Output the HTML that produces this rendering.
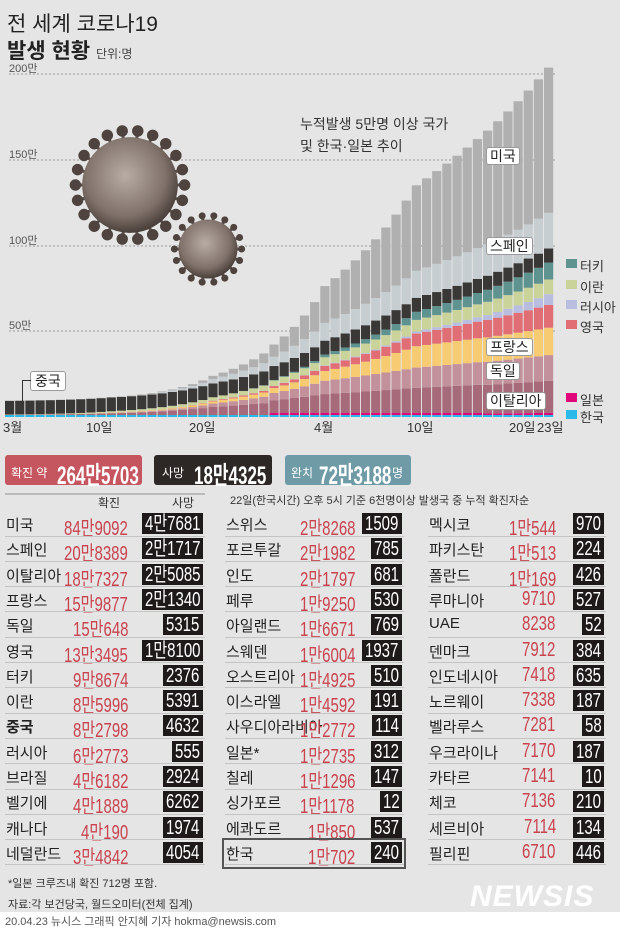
<!DOCTYPE html>
<html><head><meta charset="utf-8">
<style>
body{margin:0;width:620px;height:929px;background:#e5e5e5;font-family:"Liberation Sans","Noto Sans CJK KR",sans-serif;position:relative;overflow:hidden}
.a{position:absolute;white-space:nowrap}
.sx{display:inline-block;transform:scaleX(.75);transform-origin:0 0}
.lbl{position:absolute;background:#fff;border:1px solid #999;border-radius:3px;font-size:14px;padding:0 3px;line-height:16px;color:#222}
</style></head><body>
<svg id="ch" class="a" style="left:0;top:0" width="620" height="450"></svg>
<div class="a" style="left:7px;top:8px;font-size:21px;color:#222">전 세계 코로나19</div>
<div class="a" style="left:7px;top:35px;font-size:21px;font-weight:bold;color:#222">발생 현황 <span style="font-size:12px;font-weight:normal;color:#444">단위:명</span></div>
<div class="a" style="left:9px;top:60px;font-size:11px;color:#555">200만</div>
<div class="a" style="left:9px;top:146px;font-size:11px;color:#555">150만</div>
<div class="a" style="left:9px;top:232px;font-size:11px;color:#555">100만</div>
<div class="a" style="left:9px;top:317px;font-size:11px;color:#555">50만</div>
<div class="a" style="left:300px;top:113px;font-size:14px;line-height:22px;color:#333">누적발생 5만명 이상 국가<br>및 한국·일본 추이</div>
<div class="lbl" style="left:486px;top:147px">미국</div>
<div class="lbl" style="left:486px;top:237px">스페인</div>
<div class="lbl" style="left:486px;top:338px">프랑스</div>
<div class="lbl" style="left:486px;top:362px">독일</div>
<div class="lbl" style="left:486px;top:392px">이탈리아</div>
<div class="lbl" style="left:30px;top:371px;padding:1px 4px">중국</div>
<div class="a" style="left:22px;top:380px;width:8px;height:22px;border-left:1px solid #333;border-top:1px solid #333"></div>
<div id="lg"></div>
<div class="a" style="left:3px;top:417px;font-size:13px;color:#333">3월</div>
<div class="a" style="left:86px;top:417px;font-size:13px;color:#333">10일</div>
<div class="a" style="left:189px;top:417px;font-size:13px;color:#333">20일</div>
<div class="a" style="left:314px;top:417px;font-size:13px;color:#333">4월</div>
<div class="a" style="left:407px;top:417px;font-size:13px;color:#333">10일</div>
<div class="a" style="left:509px;top:417px;font-size:13px;color:#333">20일</div>
<div class="a" style="left:537px;top:417px;font-size:13px;color:#333">23일</div>

<div class="a" style="left:5px;top:455px;width:137px;height:30px;background:#c5555e;border-radius:3px;color:#fff"><span style="position:absolute;left:6px;top:9px;font-size:12px">확진 약</span><span class="sx" style="position:absolute;left:52px;top:1px;font-size:25px;font-weight:bold;transform:scaleX(.68)">264만5703</span></div>
<div class="a" style="left:154px;top:455px;width:118px;height:30px;background:#2d2725;border-radius:3px;color:#fff"><span style="position:absolute;left:8px;top:9px;font-size:12px">사망</span><span class="sx" style="position:absolute;left:40px;top:1px;font-size:25px;font-weight:bold;transform:scaleX(.68)">18만4325</span></div>
<div class="a" style="left:285px;top:455px;width:126px;height:30px;background:#6f9ba6;border-radius:3px;color:#fff"><span style="position:absolute;left:6px;top:9px;font-size:12px">완치</span><span class="sx" style="position:absolute;left:34px;top:1px;font-size:25px;font-weight:bold;transform:scaleX(.68)">72만3188</span><span style="position:absolute;left:107px;top:9px;font-size:12px">명</span></div>
<div class="a" style="left:5px;top:493px;width:200px;border-top:2px solid #bbb"></div>
<div class="a" style="left:98px;top:494px;font-size:12px;color:#333">확진</div>
<div class="a" style="left:172px;top:494px;font-size:12px;color:#333">사망</div>
<div class="a" style="left:230px;top:492px;font-size:11px;color:#333">22일(한국시간) 오후 5시 기준 6천명이상 발생국 중 누적 확진자순</div>
<div id="tb"></div>
<div class="a" style="left:222px;top:838px;width:180px;height:27px;border:2px solid #555"></div>
<div class="a" style="left:8px;top:875px;font-size:11px;color:#333">*일본 크루즈내 확진 712명 포함.</div>
<div class="a" style="left:8px;top:896px;font-size:11px;color:#333">자료:각 보건당국, 월드오미터(전체 집계)</div>
<div class="a" style="left:470px;top:880px;font-size:30px;font-weight:bold;font-style:italic;color:#fff;letter-spacing:1px">NEWSIS</div>
<div class="a" style="left:0;top:912px;width:620px;height:17px;background:#fff"></div>
<div class="a" style="left:5px;top:913px;font-size:11px;color:#555">20.04.23 뉴시스 그래픽 안지혜 기자 hokma@newsis.com</div>
<script>
var ns="http://www.w3.org/2000/svg",svg=document.getElementById('ch');
function el(t,a){var e=document.createElementNS(ns,t);for(var k in a)e.setAttribute(k,a[k]);svg.appendChild(e);return e;}
[74,160,246,331].forEach(function(y){el('line',{x1:9,x2:555,y1:y,y2:y,stroke:'#999','stroke-dasharray':'2,2','stroke-width':1});});
var defs=el('defs',{});
defs.innerHTML='<radialGradient id="vg" cx="45%" cy="40%" r="60%"><stop offset="0" stop-color="#b8aca4"/><stop offset="0.7" stop-color="#80726a"/><stop offset="1" stop-color="#4a3f3a"/></radialGradient>';
function virus(cx,cy,r,n){for(var i=0;i<n;i++){var a=i/n*6.283,x=cx+Math.cos(a)*r*1.05,y=cy+Math.sin(a)*r*1.05;el('line',{x1:cx+Math.cos(a)*r*.8,y1:cy+Math.sin(a)*r*.8,x2:x,y2:y,stroke:'#5a4e48','stroke-width':3});el('circle',{cx:x,cy:y,r:r*.11,fill:'#4e433e'});}
el('circle',{cx:cx,cy:cy,r:r*.92,fill:'url(#vg)'});}
virus(130,185,52,22);virus(208,249,32,18);
var C={cn:[[0,79800],[10,80900],[20,81250],[31,81600],[53,82800]],kr:[[0,3700],[10,7500],[20,8650],[31,9900],[53,10700]],jp:[[0,950],[20,1700],[31,2900],[40,6000],[53,12400]],
it:[[0,1700],[10,10150],[20,47000],[31,110600],[40,147600],[53,187300]],de:[[0,130],[10,1500],[20,20000],[31,77800],[40,118000],[53,150600]],
fr:[[0,130],[10,1800],[20,12600],[31,57000],[40,125000],[53,159900]],uk:[[0,36],[10,380],[20,4000],[31,30000],[40,74000],[53,133500]],
ru:[[0,3],[10,20],[20,250],[31,2800],[40,12000],[53,62800]],ir:[[0,980],[10,8000],[20,19600],[31,47600],[40,68000],[53,86000]],
tr:[[0,1],[10,1],[20,360],[31,15700],[40,47000],[53,98700]],es:[[0,80],[10,1700],[20,25000],[31,104000],[40,158000],[53,208400]],
us:[[0,75],[10,1000],[20,19000],[31,215000],[40,500000],[53,849000]]};
function val(p,d){for(var i=0;i<p.length-1;i++){if(d<=p[i+1][0]){var t=(d-p[i][0])/(p[i+1][0]-p[i][0]);return Math.exp(Math.log(p[i][1])*(1-t)+Math.log(p[i+1][1])*t);}}return p[p.length-1][1];}
var order=[['kr','#2bb9ea'],['jp','#e0077a'],['it','#a66a7a'],['de','#c3919b'],['fr','#f7cb72'],['uk','#e06e74'],['ru','#b9bde0'],['ir','#c9d39a'],['tr','#5e938f'],['cn','#3a3836'],['es','#c7ced2'],['us','#b0b0b0']];
var k=85.5/500000;
for(var d=0;d<54;d++){var x=5+d*10.17,y=417;order.forEach(function(o){var v=val(C[o[0]],d),h=v*k;if(o[0]=='jp'&&h<1.5)h=d>25?2:0;if(o[0]=='kr')h=Math.max(h,2);el('rect',{x:x,y:y-h,width:9.2,height:h,fill:o[1]});y-=h;});}
var lg='',L=[['터키','#5e938f',256],['이란','#c9d39a',277],['러시아','#b9bde0',297],['영국','#e06e74',317],['일본','#e0077a',390],['한국','#2bb9ea',407]];
L.forEach(function(l){lg+='<div class="a" style="left:566px;top:'+(l[2]+3)+'px;width:11px;height:9px;background:'+l[1]+'"></div><div class="a" style="left:580px;top:'+l[2]+'px;font-size:13px;color:#333">'+l[0]+'</div>';});
document.getElementById('lg').innerHTML=lg;
var T=[[[['미국','84만9092','4만7681'],['스페인','20만8389','2만1717'],['이탈리아','18만7327','2만5085'],['프랑스','15만9877','2만1340'],['독일','15만648','5315'],['영국','13만3495','1만8100'],['터키','9만8674','2376'],['이란','8만5996','5391'],['중국','8만2798','4632'],['러시아','6만2773','555'],['브라질','4만6182','2924'],['벨기에','4만1889','6262'],['캐나다','4만190','1974'],['네덜란드','3만4842','4054']],5,205,128],
[[['스위스','2만8268','1509'],['포르투갈','2만1982','785'],['인도','2만1797','681'],['페루','1만9250','530'],['아일랜드','1만6671','769'],['스웨덴','1만6004','1937'],['오스트리아','1만4925','510'],['이스라엘','1만4592','191'],['사우디아라비아','1만2772','114'],['일본*','1만2735','312'],['칠레','1만1296','147'],['싱가포르','1만1178','12'],['에콰도르','1만850','537'],['한국','1만702','240']],225,404,355],
[[['멕시코','1만544','970'],['파키스탄','1만513','224'],['폴란드','1만169','426'],['루마니아','9710','527'],['UAE','8238','52'],['덴마크','7912','384'],['인도네시아','7418','635'],['노르웨이','7338','187'],['벨라루스','7281','58'],['우크라이나','7170','187'],['카타르','7141','10'],['체코','7136','210'],['세르비아','7114','134'],['필리핀','6710','446']],428,606,556]];
var h='',P=25.3;
T.forEach(function(c){var x0=c[1],x1=c[2],nr=c[3];c[0].forEach(function(r,i){var y=511+i*P;var bold=r[0]=='중국'?'font-weight:bold;':'';
h+='<div class="a" style="left:'+(x0+1)+'px;top:'+(y+3)+'px;font-size:15px;color:#222;'+bold+'">'+r[0]+'</div>';
h+='<div class="a rn" data-r="'+nr+'" style="top:'+(y+1)+'px;font-size:20px;color:#c9434f"><span class="sx">'+r[1]+'</span></div>';
h+='<div class="a bx" data-r="'+(x1-2)+'" style="top:'+(y+2)+'px;height:21px;line-height:22px;background:#1e1a19;color:#fff;font-size:20px;overflow:hidden"><span class="sx" style="margin-left:3px">'+r[2]+'</span></div>';
if(i<13)h+='<div class="a" style="left:'+x0+'px;width:'+(x1-x0)+'px;top:'+(y+24.5)+'px;border-top:1px solid #c4c4c4"></div>';});
h+='<div class="a" style="left:'+x0+'px;width:'+(x1-x0)+'px;top:'+(511+14*P-1)+'px;border-top:1px solid #c4c4c4"></div>';});
document.getElementById('tb').innerHTML=h;
document.querySelectorAll('.rn').forEach(function(e){var w=e.firstChild.offsetWidth*.75;e.style.left=(+e.dataset.r-w)+'px';e.style.width=w+'px';});
document.querySelectorAll('.bx').forEach(function(e){var w=e.firstChild.offsetWidth*.75+6;e.style.left=(+e.dataset.r-w)+'px';e.style.width=w+'px';});
</script>
</body></html>
